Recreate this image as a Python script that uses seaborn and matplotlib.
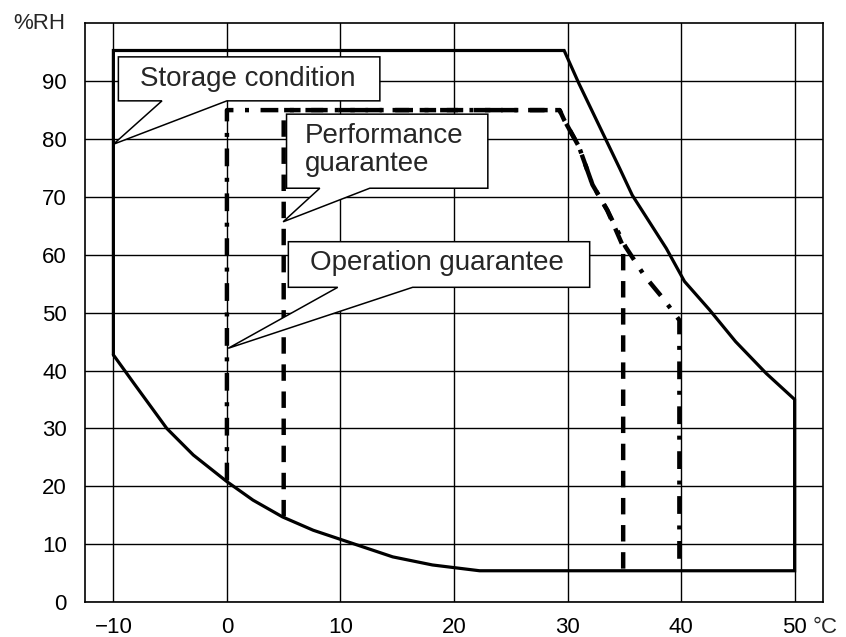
import matplotlib
matplotlib.use("Agg")
import matplotlib.pyplot as plt
import numpy as np
import pandas as pd
import seaborn as sns
from matplotlib.patches import Polygon

# ---------------- data ----------------
storage_t = [-10, -10, 29.7, 31.0, 32.2, 33.4, 34.6, 35.7, 37.2, 38.7, 40.3,
             42.5, 44.8, 47.5, 50, 50, 22.25,
             18.1, 14.6, 11.1, 7.6, 4.9, 2.3, 0.0, -2.96, -5.3, -8.2, -10]
storage_rh = [42.7, 95.3, 95.3, 89.6, 84.7, 79.8, 74.9, 70.3, 65.7, 61.1, 55.4,
              50.5, 45.0, 39.5, 35.0, 5.4, 5.4,
              6.4, 7.8, 10.1, 12.4, 14.7, 17.6, 20.8, 25.4, 30.0, 37.8, 42.7]

perf_t = [5, 5, 29.3, 29.7, 31.0, 32.2, 33.5, 34.9, 34.9]
perf_rh = [14.8, 85, 85, 83.3, 78.7, 72.1, 67.7, 61.4, 5.4]

oper_t = [0, 0, 29.3, 29.7, 31.0, 32.2, 33.5, 35.1, 36.8, 38.4, 39.85, 39.85]
oper_rh = [21, 85, 85, 83.3, 78.7, 72.1, 67.7, 61.4, 56.3, 52.5, 48.7, 5.4]

x_ticks = [-10, 0, 10, 20, 30, 40, 50]
x_tick_labels = ["\u221210", "0", "10", "20", "30", "40", "50"]
y_ticks = [0, 10, 20, 30, 40, 50, 60, 70, 80, 90]
y_tick_labels = ["0", "10", "20", "30", "40", "50", "60", "70", "80", "90"]

callout_labels = ["Storage condition", "Performance\nguarantee", "Operation guarantee"]

# ---------------- style ----------------
sns.set_style("white")
plt.rcParams["font.family"] = ["Liberation Sans", "DejaVu Sans"]

fig = plt.figure(figsize=(8.46, 6.37), dpi=100)
ax = fig.add_axes([85 / 846, 1 - 602 / 637, (823 - 85) / 846, (602 - 23.3) / 637])

def frame(t, rh):
    return pd.DataFrame({"t": t, "rh": rh})

sns.lineplot(data=frame(storage_t, storage_rh), x="t", y="rh", sort=False,
             estimator=None, color="black", lw=2.3, ax=ax, zorder=3,
             solid_joinstyle="miter")
sns.lineplot(data=frame(oper_t, oper_rh), x="t", y="rh", sort=False,
             estimator=None, color="black", lw=3.2, ax=ax, zorder=3,
             linestyle=(0, (4.0, 2.6, 0.9, 2.6)), dash_capstyle="butt")
sns.lineplot(data=frame(perf_t, perf_rh), x="t", y="rh", sort=False,
             estimator=None, color="black", lw=3.2, ax=ax, zorder=3,
             linestyle=(0, (3.7, 2.4)), dash_capstyle="butt")

ax.set_xlim(-12.5, 52.5)
ax.set_ylim(0, 100)
ax.set_xticks(x_ticks)
ax.set_xticklabels(x_tick_labels)
ax.set_yticks(y_ticks)
ax.set_yticklabels(y_tick_labels)
ax.tick_params(axis="x", length=0, pad=11, labelsize=16, colors="black")
ax.tick_params(axis="y", length=0, pad=13, labelsize=16, colors="black")
ax.set_xlabel("")
ax.set_ylabel("")
ax.grid(True, color="black", lw=1.0)
ax.set_axisbelow(True)
for s in ax.spines.values():
    s.set_color("black")
    s.set_linewidth(1.2)
    s.set_visible(True)

# ---------------- callouts ----------------
callout_geom = [
    dict(box=(-9.56, 13.47, 94.2, 86.6), base=(-5.72, 0.0), tip=(-10.0, 79.1),
         txt=(1.8, 90.4), ha="center"),
    dict(box=(5.25, 22.98, 84.3, 71.5), base=(8.18, 12.58), tip=(4.95, 65.7),
         txt=(6.87, 78.1), ha="left"),
    dict(box=(5.41, 31.95, 62.26, 54.38), base=(9.76, 16.36), tip=(0.11, 43.84),
         txt=(18.5, 58.5), ha="center"),
]
for label, g in zip(callout_labels, callout_geom):
    x0, x1, yt, yb = g["box"]
    b1, b2 = g["base"]
    verts = [(x0, yt), (x1, yt), (x1, yb), (b2, yb), g["tip"], (b1, yb), (x0, yb)]
    ax.add_patch(Polygon(verts, closed=True, fc="white", ec="black", lw=1.1,
                         zorder=5, joinstyle="miter"))
    ax.text(g["txt"][0], g["txt"][1], label, ha=g["ha"], va="center",
            fontsize=20, zorder=6, linespacing=1.1)

# axis unit labels
fig.text(13 / 846, 1 - 29 / 637, "%RH", fontsize=16, ha="left", va="baseline")
ax.annotate("\u00b0C", xy=(50, 0), xycoords="data", xytext=(18, -11 * 100 / 72),
            textcoords="offset pixels", ha="left", va="top", fontsize=16,
            annotation_clip=False)

fig.savefig("out.png", dpi=100, facecolor="white")
